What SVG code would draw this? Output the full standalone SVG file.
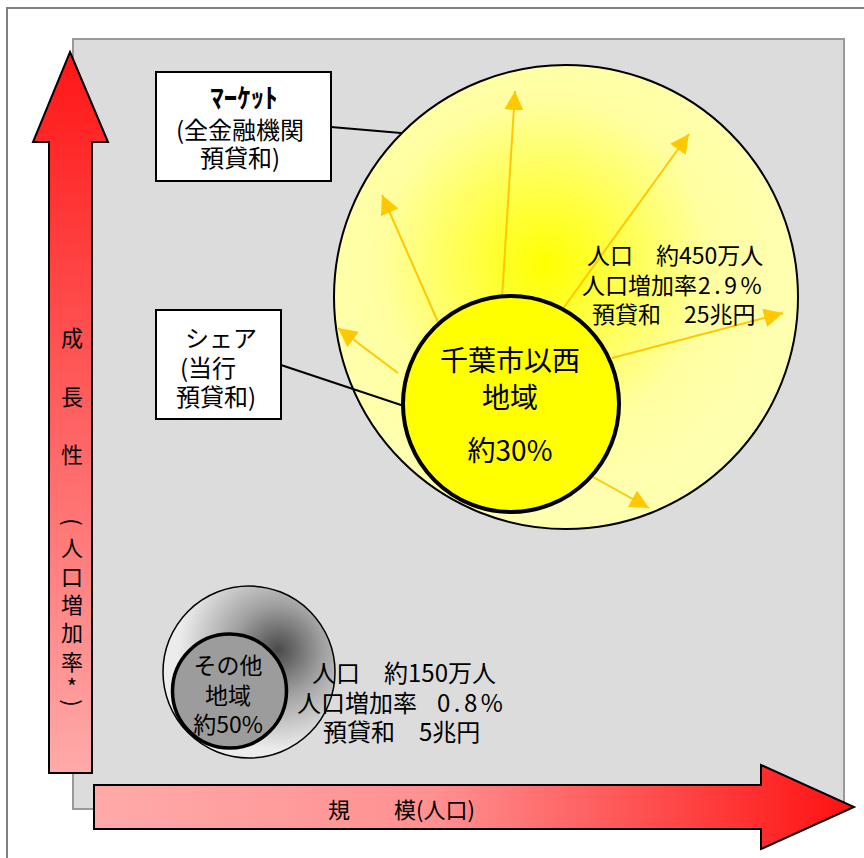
<svg xmlns="http://www.w3.org/2000/svg" width="864" height="858" viewBox="0 0 864 858">
<style>
.t{font-family:"Noto Sans CJK JP","Noto Sans",sans-serif;fill:#000}
.ya{stroke:#ffc800;stroke-width:2;fill:none;marker-end:url(#ya)}
.ln{stroke:#000;stroke-width:2;fill:none}
.box{fill:#fff;stroke:#000;stroke-width:2}
</style>
<defs>
<marker id="ya" markerWidth="20" markerHeight="20" refX="19" refY="9.5" orient="auto" markerUnits="userSpaceOnUse"><path d="M0,0 L19,9.5 L0,19 z" fill="#ffc800"/></marker>
<linearGradient id="gv" x1="0" y1="0" x2="0" y2="1"><stop offset="0" stop-color="#ff1616"/><stop offset="1" stop-color="#ffaaaa"/></linearGradient>
<linearGradient id="gh" x1="0" y1="0" x2="1" y2="0"><stop offset="0" stop-color="#ffaaaa"/><stop offset="0.45" stop-color="#ff9090"/><stop offset="1" stop-color="#ff1010"/></linearGradient>
<radialGradient id="gy" gradientUnits="userSpaceOnUse" cx="545" cy="265" r="235"><stop offset="0" stop-color="#ffff00"/><stop offset="0.35" stop-color="#ffff50"/><stop offset="0.7" stop-color="#ffffa0"/><stop offset="1" stop-color="#ffffb0"/></radialGradient>
<radialGradient id="gg" gradientUnits="userSpaceOnUse" cx="278" cy="650" r="100"><stop offset="0" stop-color="#4a4a4a"/><stop offset="0.45" stop-color="#a0a0a0"/><stop offset="1" stop-color="#ececec"/></radialGradient>
</defs>
<rect x="7" y="8" width="900" height="900" fill="#fff" stroke="#808080" stroke-width="2"/>
<rect id="plot" x="73" y="39" width="771" height="770" fill="#dcdcdc" stroke="#999" stroke-width="2"/>

<g id="market-circle">
<circle cx="566" cy="297" r="232" fill="url(#gy)" stroke="#000" stroke-width="2"/>
</g>
<g id="connectors">
<line class="ya" x1="502" y1="298" x2="515" y2="91"/>
<line class="ya" x1="562" y1="310" x2="689" y2="134"/>
<line class="ya" x1="438" y1="322" x2="382" y2="195"/>
<line class="ya" x1="398" y1="373" x2="338" y2="328"/>
<line class="ya" x1="612" y1="358" x2="783" y2="313"/>
<line class="ya" x1="593" y1="477" x2="649" y2="508"/>
<line class="ln" x1="331" y1="127" x2="401" y2="133"/>
<line class="ln" x1="281" y1="365" x2="404" y2="406"/>
</g>
<g id="market-text">
<text class="t" font-size="23" x="587" y="264" xml:space="preserve">人口　約450万人</text>
<text class="t" font-size="23" x="582" y="294">人口増加率<tspan x="698" letter-spacing="3.5">2.9%</tspan></text>
<text class="t" font-size="23" x="592" y="323" xml:space="preserve">預貸和　25兆円</text>
</g>
<g id="chiba">
<circle cx="511" cy="404" r="108" fill="#ffff00" stroke="#000" stroke-width="4"/>
<text class="t" font-size="28" x="510" y="371" text-anchor="middle">千葉市以西</text>
<text class="t" font-size="28" x="510" y="408" text-anchor="middle">地域</text>
<text class="t" font-size="28" x="510" y="461" text-anchor="middle">約30%</text>
</g>
<g id="other">
<circle cx="249" cy="672" r="86" fill="url(#gg)" stroke="#000" stroke-width="1.5"/>
<circle cx="229.5" cy="691" r="57" fill="#9c9c9c" stroke="#000" stroke-width="3.5"/>
<text class="t" font-size="23" x="228" y="674" text-anchor="middle">その他</text>
<text class="t" font-size="23" x="228" y="704" text-anchor="middle">地域</text>
<text class="t" font-size="23" x="228" y="733" text-anchor="middle">約50%</text>
</g>
<g id="other-text">
<text class="t" font-size="24" x="312" y="682" xml:space="preserve">人口　約150万人</text>
<text class="t" font-size="24" x="297" y="712">人口増加率 <tspan x="437" letter-spacing="3.5">0.8%</tspan></text>
<text class="t" font-size="24" x="323" y="741" xml:space="preserve">預貸和　5兆円</text>
</g>
<g id="label-market">
<rect class="box" x="156" y="72" width="175" height="109"/>
<text class="t" font-size="27" font-weight="bold" x="244" y="108" text-anchor="middle">ﾏｰｹｯﾄ</text>
<text class="t" font-size="24" x="176" y="139">(全金融機関</text>
<text class="t" font-size="24" x="200" y="167">預貸和)</text>
</g>
<g id="label-share">
<rect class="box" x="156" y="310" width="125" height="109"/>
<text class="t" font-size="24" x="185" y="347">シェア</text>
<text class="t" font-size="24" x="180" y="377">(当行</text>
<text class="t" font-size="24" x="176" y="406">預貸和)</text>
</g>
<g id="axis-y">
<polygon points="70,52 108,142 92,142 92,773 49,773 49,142 33,142" fill="url(#gv)" stroke="#000" stroke-width="2"/>
<g class="t" font-size="22" text-anchor="middle">
<text x="72" y="346">成</text>
<text x="72" y="405">長</text>
<text x="72" y="463">性</text>
<text x="72" y="530" transform="rotate(90 72 522)">(</text>
<text x="72" y="556">人</text>
<text x="72" y="585">口</text>
<text x="72" y="613">増</text>
<text x="72" y="641">加</text>
<text x="72" y="670">率</text>
<text x="72" y="695">*</text>
<text x="72" y="711" transform="rotate(90 72 703)">)</text>
</g>
</g>
<g id="axis-x">
<polygon points="94,785 761,785 761,765 854,807 761,849 761,829 94,829" fill="url(#gh)" stroke="#000" stroke-width="2"/>
<text class="t" font-size="22" x="328" y="818" xml:space="preserve">規　　模(人口)</text>
</g>
</svg>
